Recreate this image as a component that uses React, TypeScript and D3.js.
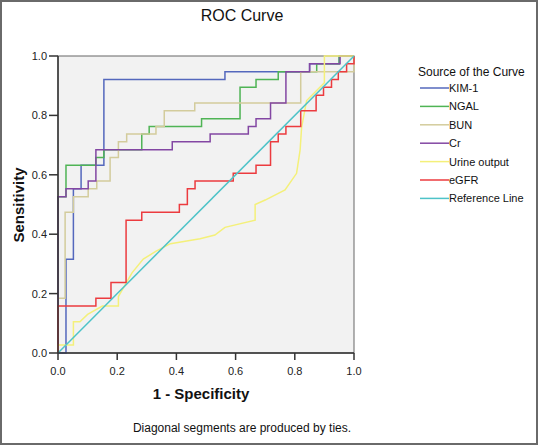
import React from "react";
import * as d3 from "d3";

type P = [number, number];

const ticks = [0, 0.2, 0.4, 0.6, 0.8, 1.0];
const tickLabels = ["0.0", "0.2", "0.4", "0.6", "0.8", "1.0"];

const kim1: P[] = [[0,0],[0.027,0],[0.027,0.316],[0.052,0.316],[0.052,0.553],[0.078,0.553],[0.078,0.632],[0.155,0.632],[0.155,0.921],[0.564,0.921],[0.564,0.947],[0.85,0.947],[0.85,0.974],[0.95,0.974],[0.95,1],[1,1]];
const ngal: P[] = [[0,0],[0,0.526],[0.027,0.526],[0.027,0.632],[0.128,0.632],[0.128,0.658],[0.155,0.658],[0.155,0.684],[0.283,0.684],[0.283,0.737],[0.308,0.737],[0.308,0.763],[0.485,0.763],[0.485,0.789],[0.615,0.789],[0.615,0.895],[0.669,0.895],[0.669,0.921],[0.744,0.921],[0.744,0.947],[0.874,0.947],[0.874,0.974],[0.95,0.974],[0.95,1],[1,1]];
const bun: P[] = [[0,0],[0,0.184],[0.024,0.184],[0.024,0.474],[0.052,0.474],[0.052,0.526],[0.102,0.526],[0.102,0.553],[0.131,0.553],[0.131,0.579],[0.176,0.579],[0.176,0.658],[0.204,0.658],[0.204,0.711],[0.232,0.711],[0.232,0.737],[0.331,0.737],[0.331,0.763],[0.359,0.763],[0.359,0.816],[0.462,0.816],[0.462,0.842],[0.82,0.842],[0.82,0.947],[1,0.947],[1,1]];
const cr: P[] = [[0,0],[0,0.526],[0.027,0.526],[0.027,0.553],[0.102,0.553],[0.102,0.579],[0.128,0.579],[0.128,0.684],[0.386,0.684],[0.386,0.711],[0.514,0.711],[0.514,0.737],[0.643,0.737],[0.643,0.763],[0.669,0.763],[0.669,0.789],[0.718,0.789],[0.718,0.842],[0.77,0.842],[0.77,0.947],[0.85,0.947],[0.85,0.974],[0.953,0.974],[0.953,1],[1,1]];
const urine: P[] = [[0,0],[0,0.027],[0.052,0.027],[0.052,0.105],[0.074,0.105],[0.1,0.13],[0.15,0.158],[0.204,0.158],[0.204,0.19],[0.25,0.27],[0.288,0.316],[0.33,0.342],[0.38,0.368],[0.48,0.385],[0.53,0.397],[0.564,0.423],[0.666,0.447],[0.666,0.5],[0.7,0.515],[0.767,0.549],[0.806,0.605],[0.818,0.684],[0.823,0.76],[0.84,0.85],[0.9,0.91],[0.9,1],[1,1]];
const egfr: P[] = [[0,0],[0,0.158],[0.128,0.158],[0.128,0.184],[0.179,0.184],[0.179,0.237],[0.23,0.237],[0.23,0.447],[0.283,0.447],[0.283,0.474],[0.41,0.474],[0.41,0.5],[0.437,0.5],[0.437,0.553],[0.463,0.553],[0.463,0.579],[0.592,0.579],[0.592,0.605],[0.669,0.605],[0.669,0.632],[0.718,0.632],[0.718,0.711],[0.744,0.711],[0.744,0.737],[0.77,0.737],[0.77,0.763],[0.82,0.763],[0.82,0.816],[0.872,0.816],[0.872,0.868],[0.897,0.868],[0.897,0.895],[0.924,0.895],[0.924,0.921],[0.947,0.921],[0.947,0.947],[0.975,0.947],[0.975,0.974],[1,0.974],[1,1]];
const refLine: P[] = [[0,0],[1,1]];

const seriesNames = ["KIM-1", "NGAL", "BUN", "Cr", "Urine output", "eGFR", "Reference Line"];
const seriesData = [kim1, ngal, bun, cr, urine, egfr, refLine];
const seriesColors = ["#5468bd", "#4fb455", "#d3cc9c", "#8347a3", "#f4f07a", "#ec3b3f", "#4ec3c8"];

const W = 538, H = 445;
const X0 = 58, X1 = 354, Y0 = 353, Y1 = 56;
const FONT = "'Liberation Sans', Arial, Helvetica, sans-serif";

export default function App() {
  const x = d3.scaleLinear().domain([0, 1]).range([X0, X1]);
  const y = d3.scaleLinear().domain([0, 1]).range([Y0, Y1]);
  const line = d3.line<P>().x(d => x(d[0])).y(d => y(d[1]));

  return (
    <svg width={W} height={H} style={{ position: "fixed", left: 0, top: 0, background: "#fff" }} fontFamily={FONT}>
      <rect x={0} y={0} width={W} height={H} fill="#fff" />
      <rect x={1} y={1} width={W - 2} height={H - 2} fill="none" stroke="#6a6a6a" strokeWidth={2} />
      <text x={242} y={21} fontSize={16} textAnchor="middle" fill="#111">ROC Curve</text>

      <rect x={X0} y={Y1} width={X1 - X0} height={Y0 - Y1} fill="#f2f2f2" stroke="#666" strokeWidth={1} />

      <g fill="none" strokeWidth={1.5} strokeLinejoin="miter">
        {seriesData.map((d, i) => (
          <path key={seriesNames[i]} d={line(d) || ""} stroke={seriesColors[i]} />
        ))}
      </g>

      {/* axes */}
      <line x1={X0} x2={X0} y1={Y1} y2={Y0} stroke="#333" strokeWidth={1.5} />
      <line x1={X0} x2={X1} y1={Y0} y2={Y0} stroke="#333" strokeWidth={1.5} />
      {ticks.map((t, i) => (
        <g key={"y" + i}>
          <line x1={X0 - 9} x2={X0} y1={y(t)} y2={y(t)} stroke="#333" strokeWidth={1.5} />
          <text x={X0 - 11} y={y(t) + 4} fontSize={11} textAnchor="end" fill="#222">{tickLabels[i]}</text>
        </g>
      ))}
      {ticks.map((t, i) => (
        <g key={"x" + i}>
          <line x1={x(t)} x2={x(t)} y1={Y0} y2={Y0 + 7} stroke="#333" strokeWidth={1.5} />
          <text x={x(t)} y={Y0 + 22} fontSize={11} textAnchor="middle" fill="#222">{tickLabels[i]}</text>
        </g>
      ))}

      <text x={201} y={399} fontSize={15} fontWeight="bold" textAnchor="middle" fill="#111">1 - Specificity</text>
      <text transform="translate(24,205) rotate(-90)" fontSize={15} fontWeight="bold" textAnchor="middle" fill="#111">Sensitivity</text>
      <text x={242} y={432} fontSize={12} textAnchor="middle" fill="#111">Diagonal segments are produced by ties.</text>

      <text x={418} y={76} fontSize={12} fill="#111">Source of the Curve</text>
      {seriesNames.map((n, i) => {
        const yy = 88 + i * 18.4;
        return (
          <g key={"lg" + i}>
            <line x1={420} x2={449} y1={yy} y2={yy} stroke={seriesColors[i]} strokeWidth={1.5} />
            <text x={449} y={yy + 4} fontSize={11} fill="#111">{n}</text>
          </g>
        );
      })}
    </svg>
  );
}
